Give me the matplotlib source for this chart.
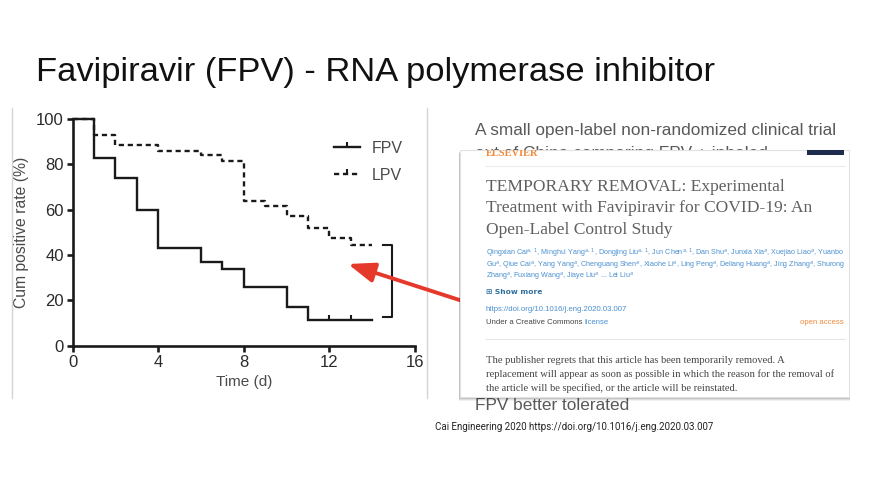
import numpy as np
import matplotlib
matplotlib.use("Agg")
import matplotlib.pyplot as plt
from matplotlib.lines import Line2D
from matplotlib.patches import Rectangle, FancyArrowPatch, ArrowStyle

plt.rcParams['font.family'] = ['Liberation Sans', 'DejaVu Sans']

# Kaplan-Meier style data
fpv_t = [0, 1, 2, 3, 4, 6, 7, 8, 10, 11, 14]
fpv_s = [100, 83, 74, 60, 43, 37, 34, 26, 17, 11.5, 11.5]
fpv_censor_t = [12, 13]

lpv_t = [0, 1, 2, 4, 6, 7, 8, 9, 10, 11, 12, 13, 14]
lpv_s = [100, 93, 88.5, 86, 84, 81.5, 64, 61.5, 57, 52, 47.5, 44.5, 44.5]

x_ticks = [0, 4, 8, 12, 16]
y_ticks = [0, 20, 40, 60, 80, 100]

W, H = 882, 480
fig = plt.figure(figsize=(W / 100, H / 100), dpi=100)
fig.patch.set_facecolor('white')


def px(x, y):
    return (x / W, 1 - y / H)


# ---- chart ----
ax = fig.add_axes([72.7 / W, 1 - 345.7 / H, 342.3 / W, 226.7 / H])
ax.step(fpv_t, fpv_s, where='post', color='#1a1a1a', lw=1.7, clip_on=False,
        solid_joinstyle='miter')
ax.step(lpv_t, lpv_s, where='post', color='#1a1a1a', lw=1.7, clip_on=False,
        linestyle=(0, (2.2, 1.6)))
fpv_last = fpv_s[-1]
ax.plot(fpv_censor_t, [fpv_last] * len(fpv_censor_t), linestyle='none',
        marker=2, markersize=3.5, mew=1.5, color='#1a1a1a', clip_on=False)

# bracket between the two end values
bx0, bx1 = fpv_t[-1] + 0.5, fpv_t[-1] + 0.92
ax.plot([bx0, bx1, bx1, bx0], [lpv_s[-1], lpv_s[-1], fpv_s[-1] + 1.3, fpv_s[-1] + 1.3],
        color='#1a1a1a', lw=1.5, clip_on=False)

ax.set_xlim(0, 16)
ax.set_ylim(0, 100)
ax.set_xticks(x_ticks)
ax.set_yticks(y_ticks)
for s in ['top', 'right']:
    ax.spines[s].set_visible(False)
for s in ['left', 'bottom']:
    ax.spines[s].set_linewidth(1.9)
    ax.spines[s].set_color('#1a1a1a')
ax.tick_params(direction='out', length=4.5, width=1.9, color='#1a1a1a',
               labelsize=12, labelcolor='#2a2a2a', pad=2)
ax.set_xlabel('Time (d)', fontsize=11, color='#4a4a4a', labelpad=4)
ax.set_ylabel('Cum positive rate (%)', fontsize=11.3, color='#4a4a4a', labelpad=5)

handles = [
    Line2D([], [], color='#1a1a1a', lw=1.7, marker=2, markersize=3.5, mew=1.5),
    Line2D([], [], color='#1a1a1a', lw=1.7, linestyle=(0, (2.2, 1.6)),
           marker=2, markersize=3.5, mew=1.5),
]
ax.legend(handles, ['FPV', 'LPV'], loc='upper left', frameon=False,
          bbox_to_anchor=px(334, 141), bbox_transform=fig.transFigure,
          fontsize=11.5, labelcolor='#4a4a4a', handlelength=1.6,
          handletextpad=0.75, labelspacing=0.75, borderpad=0, borderaxespad=0,
          numpoints=1)

# faint borders of the pasted chart image
for xx in [12, 427]:
    fig.add_artist(Line2D([xx / W, xx / W], [1 - 108 / H, 1 - 398 / H],
                          transform=fig.transFigure, color='#d4d4d4', lw=1))

# ---- slide texts ----
fig.text(*px(36, 81), 'Favipiravir (FPV) - RNA polymerase inhibitor',
         fontsize=24.8, color='#111111', va='baseline', ha='left')
fig.text(*px(475, 135), 'A small open-label non-randomized clinical trial',
         fontsize=12.4, color='#595959', va='baseline')
fig.text(*px(475, 158), 'out of China comparing FPV + inhaled',
         fontsize=12.4, color='#595959', va='baseline')
fig.text(*px(475, 410), 'FPV better tolerated',
         fontsize=12.4, color='#595959', va='baseline')
fig.text(*px(435, 427), 'Cai Engineering 2020 https://doi.org/10.1016/j.eng.2020.03.007',
         fontsize=7.0, color='#222222', va='center', family=['Roboto', 'DejaVu Sans'])

# red arrow
arr = FancyArrowPatch(px(478, 306), px(348, 264), transform=fig.transFigure,
                      arrowstyle=ArrowStyle('-|>', head_length=1.6, head_width=0.6),
                      mutation_scale=10, lw=2.8, color='#e5392b',
                      shrinkA=0, shrinkB=0, zorder=3)
fig.add_artist(arr)

# ---- article screenshot ----
bx, by, bw, bh = 460, 150, 389, 247
for off, a in [(4, 0.06), (3, 0.08), (2, 0.12), (1, 0.18)]:
    fig.add_artist(Rectangle(px(bx - off * 0.3, by + bh + off), (bw + off * 0.6) / W,
                             (bh) / H, transform=fig.transFigure,
                             facecolor='#000000', alpha=a, lw=0, zorder=4))
box = Rectangle(px(bx, by + bh), bw / W, bh / H, transform=fig.transFigure,
                facecolor='white', edgecolor='#e2e2e2', lw=0.8, zorder=5)
fig.add_artist(box)

serif = ['Liberation Serif', 'DejaVu Serif']
t = fig.text(*px(486, 156), 'ELSEVIER', fontsize=7.5, color='#f08a3c',
             family=serif, weight='bold', va='baseline', zorder=6)
t.set_clip_path(box)
fig.add_artist(Rectangle(px(807, 155), 37 / W, 5 / H, transform=fig.transFigure,
                         facecolor='#1d2c4c', lw=0, zorder=6))
fig.add_artist(Line2D([486 / W, 845 / W], [1 - 166 / H] * 2, transform=fig.transFigure,
                      color='#ececec', lw=0.8, zorder=6))

title_lines = ['TEMPORARY REMOVAL: Experimental',
               'Treatment with Favipiravir for COVID-19: An',
               'Open-Label Control Study']
for i, ln in enumerate(title_lines):
    fig.text(*px(486, 191 + i * 21.5), ln, fontsize=12.6, color='#606060',
             family=serif, va='baseline', zorder=6)

author_lines = [
    r'Qingxian Cai$^{a,\,1}$, Minghui Yang$^{a,\,1}$, Dongjing Liu$^{a,\,1}$, Jun Chen$^{a,\,1}$, Dan Shu$^{a}$, Junxia Xia$^{a}$, Xuejiao Liao$^{a}$, Yuanbo',
    r'Gu$^{a}$, Qiue Cai$^{a}$, Yang Yang$^{a}$, Chenguang Shen$^{a}$, Xiaohe Li$^{a}$, Ling Peng$^{a}$, Deliang Huang$^{a}$, Jing Zhang$^{a}$, Shurong',
    r'Zhang$^{a}$, Fuxiang Wang$^{a}$, Jiaye Liu$^{a}$ ... Lei Liu$^{a}$',
]
for i, ln in enumerate(author_lines):
    fig.text(*px(486, 256 + i * 11.5), ln, fontsize=5.1, color='#4a8fd0',
             va='baseline', zorder=6)
fig.text(*px(486, 294), '\u229e Show more', fontsize=5.4, color='#2f6f9f',
         weight='bold', va='baseline', zorder=6, family=['DejaVu Sans'])
fig.text(*px(486, 311), 'https://doi.org/10.1016/j.eng.2020.03.007', fontsize=5.6,
         color='#4a8fd0', va='baseline', zorder=6)
cc = fig.text(*px(486, 324), 'Under a Creative Commons ', fontsize=5.6,
              color='#444444', va='baseline', zorder=6)
fig.canvas.draw()
cc_end = cc.get_window_extent().x1 / W
fig.text(cc_end, 1 - 324 / H, 'license', fontsize=5.6, color='#4a8fd0',
         va='baseline', zorder=6)
fig.text(*px(844, 324), 'open access', fontsize=5.6, color='#f08a3c',
         va='baseline', ha='right', zorder=6)
fig.add_artist(Line2D([486 / W, 845 / W], [1 - 339 / H] * 2, transform=fig.transFigure,
                      color='#e6e6e6', lw=0.8, zorder=6))

para_lines = ['The publisher regrets that this article has been temporarily removed. A',
              'replacement will appear as soon as possible in which the reason for the removal of',
              'the article will be specified, or the article will be reinstated.']
for i, ln in enumerate(para_lines):
    fig.text(*px(486, 363 + i * 14), ln, fontsize=7.6, color='#444444',
             family=serif, va='baseline', zorder=6)

fig.savefig('out.png', dpi=100)
